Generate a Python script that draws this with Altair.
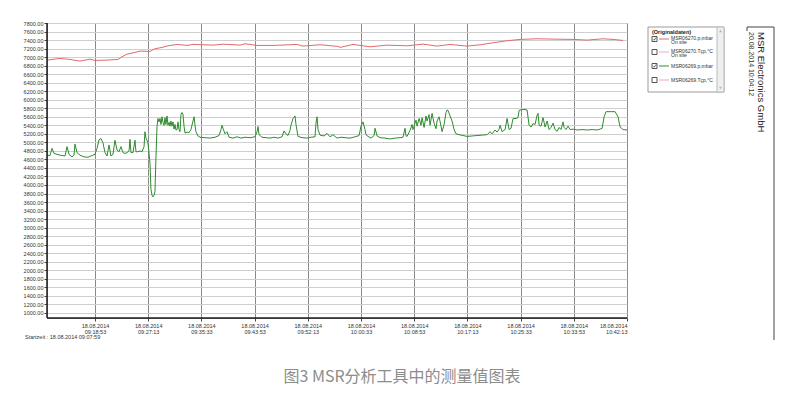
import altair as alt
import pandas as pd

# ---- data (seconds after 09:00:00 on 18.08.2014, values in mbar) ----
red_sec = [682, 804, 898, 992, 1086, 1133, 1246, 1349, 1387, 1434, 1509, 1556, 1650, 1697,
           1763, 1819, 1904, 1998, 2054, 2242, 2336, 2496, 2543, 2656, 2806, 3031, 3088,
           3248, 3417, 3436, 3558, 3718, 3878, 4066, 4216, 4348, 4470, 4630, 4752, 4874,
           5006, 5128, 5288, 5438, 5626, 5758, 5908, 6002, 6096]
red_val = [6930, 6969, 6945, 6906, 6953, 6922, 6930, 6945, 7008, 7070, 7110, 7141, 7133, 7196,
           7227, 7265, 7297, 7274, 7297, 7281, 7304, 7281, 7312, 7274, 7274, 7297, 7258,
           7290, 7250, 7227, 7297, 7242, 7281, 7265, 7305, 7258, 7297, 7258, 7289, 7336,
           7383, 7415, 7430, 7422, 7415, 7399, 7430, 7415, 7391]

green_sec = [682, 710, 729, 748, 776, 804, 832, 851, 870, 889, 917, 936, 945, 964, 992, 1030,
             1067, 1095, 1114, 1133, 1152, 1171, 1189, 1208, 1227, 1246, 1265, 1283, 1302,
             1321, 1340, 1359, 1377, 1396, 1415, 1434, 1453, 1462, 1471, 1490, 1509, 1518,
             1537, 1556, 1575, 1594, 1603, 1612, 1622, 1631, 1641, 1650, 1659, 1669, 1678,
             1688, 1697, 1706, 1716, 1725, 1735, 1744, 1753, 1763, 1772, 1782, 1791, 1800,
             1810, 1819, 1829, 1838, 1847, 1857, 1866, 1876, 1885, 1894, 1904, 1913, 1923,
             1932, 1941, 1951, 1960, 1970, 1979, 1998, 2017, 2035, 2054, 2064, 2073, 2082,
             2101, 2120, 2167, 2214, 2261, 2299, 2317, 2327, 2336, 2355, 2374, 2393, 2430,
             2468, 2505, 2543, 2590, 2637, 2656, 2665, 2675, 2703, 2740, 2778, 2816, 2853,
             2891, 2910, 2928, 2947, 2966, 2975, 2994, 3013, 3022, 3041, 3079, 3126, 3163,
             3201, 3210, 3220, 3229, 3248, 3286, 3314, 3342, 3370, 3408, 3445, 3483, 3530,
             3577, 3615, 3633, 3652, 3671, 3680, 3699, 3727, 3756, 3765, 3784, 3812, 3859,
             3906, 3953, 4000, 4028, 4047, 4056, 4066, 4094, 4113, 4122, 4141, 4150, 4160,
             4179, 4197, 4207, 4226, 4244, 4254, 4273, 4282, 4301, 4320, 4338, 4348, 4367,
             4385, 4395, 4414, 4432, 4442, 4451, 4470, 4489, 4508, 4526, 4555, 4592, 4630,
             4677, 4724, 4771, 4818, 4846, 4865, 4893, 4912, 4931, 4940, 4959, 4987, 5006,
             5025, 5043, 5062, 5090, 5109, 5119, 5147, 5175, 5194, 5213, 5231, 5250, 5269,
             5288, 5297, 5307, 5325, 5344, 5363, 5382, 5401, 5419, 5438, 5457, 5476, 5495,
             5513, 5532, 5542, 5560, 5579, 5598, 5626, 5664, 5711, 5758, 5805, 5852, 5880,
             5899, 5918, 5936, 5974, 6021, 6049, 6068, 6096, 6133]
green_val = [4700, 4690, 4860, 4740, 4720, 4700, 4690, 4680, 4900, 4720, 4660, 4700, 4960, 4760,
             4700, 4660, 4650, 4680, 4700, 4720, 4860, 5060, 5090, 4990, 4760, 4680, 4940,
             4680, 4720, 5050, 4820, 4780, 4900, 4760, 4740, 4760, 4800, 5070, 4760, 4760,
             5050, 4780, 4780, 4800, 4780, 4900, 5250, 5100, 5050, 4980, 4750, 4500, 3900,
             3760, 3720, 3760, 3850, 4660, 5370, 5560, 5480, 5560, 5420, 5600, 5470, 5400,
             5580, 5420, 5620, 5400, 5470, 5380, 5500, 5380, 5480, 5310, 5420, 5290, 5300,
             5480, 5300, 5250, 5650, 5700, 5660, 5380, 5220, 5240, 5230, 5300, 5500, 5600,
             5400, 5250, 5150, 5120, 5110, 5100, 5120, 5160, 5300, 5400, 5330, 5200, 5250,
             5120, 5100, 5130, 5100, 5120, 5110, 5130, 5250, 5370, 5180, 5120, 5110, 5100,
             5120, 5100, 5130, 5270, 5200, 5160, 5280, 5400, 5560, 5620, 5420, 5140, 5110,
             5100, 5120, 5130, 5450, 5600, 5300, 5170, 5150, 5210, 5130, 5180, 5100, 5120,
             5110, 5100, 5130, 5160, 5380, 5480, 5300, 5180, 5140, 5100, 5160, 5330, 5150,
             5110, 5100, 5080, 5100, 5110, 5120, 5330, 5150, 5140, 5280, 5420, 5300, 5450,
             5520, 5380, 5560, 5400, 5580, 5350, 5620, 5500, 5650, 5400, 5680, 5450, 5320,
             5500, 5600, 5380, 5250, 5420, 5700, 5760, 5750, 5620, 5500, 5300, 5200, 5180,
             5160, 5140, 5150, 5160, 5170, 5180, 5250, 5200, 5290, 5240, 5310, 5400, 5250,
             5300, 5560, 5300, 5330, 5560, 5560, 5580, 5750, 5770, 5770, 5760, 5400, 5360,
             5440, 5420, 5640, 5680, 5400, 5380, 5580, 5360, 5500, 5300, 5350, 5450, 5300,
             5260, 5350, 5300, 5480, 5350, 5300, 5380, 5300, 5310, 5290, 5300, 5290, 5300,
             5290, 5310, 5330, 5600, 5720, 5720, 5720, 5600, 5360, 5300, 5290]

series_names = ["MSR06270.p,mbar", "MSR06270.Tçp,°C", "MSR06269.p,mbar", "MSR06269.Tçp,°C"]
series_colors = ["#e06a6a", "#f2a8dc", "#2e8b2e", "#f2a0d4"]
x_ticks = [1133, 1633, 2133, 2633, 3133, 3633, 4133, 4633, 5133, 5633, 6133]
y_ticks = list(range(1000, 7801, 200))
date_label = "18.08.2014"
start_text = "Startzeit : 18.08.2014 09:07:59"
company = "MSR Electronics GmbH"
print_stamp = "20.08.2014 10:04:12"
legend_title = "(Originaldaten)"
caption = "图3 MSR分析工具中的测量值图表"

df = pd.concat([
    pd.DataFrame({"sec": red_sec, "val": red_val, "series": series_names[0]}),
    pd.DataFrame({"sec": green_sec, "val": green_val, "series": series_names[2]}),
])

W, H = 580, 295
X0, Y0 = 47, 23  # plot origin on page

xs = alt.X("sec:Q", scale=alt.Scale(domain=[682, 6133], nice=False, zero=False),
           axis=alt.Axis(values=x_ticks, title=None, grid=True, gridColor="#8a8a8a",
                         gridWidth=1, tickSize=3, tickColor="#444", domain=False,
                         labelFontSize=5.5, labelColor="#333", labelFont="Liberation Sans",
                         labelPadding=2, labelLineHeight=6.5,
                         labelExpr="['" + date_label + "', timeFormat(datetime(2014, 7, 18, 9, 0, datum.value), '%H:%M:%S')]"))
ys = alt.Y("val:Q", scale=alt.Scale(domain=[880, 7800], nice=False, zero=False),
           axis=alt.Axis(values=y_ticks, format=".2f", title=None, grid=True,
                         gridColor="#cfcfcf", gridWidth=1, tickSize=3, tickColor="#444",
                         domain=False, labelFontSize=5.5, labelColor="#333",
                         labelFont="Liberation Sans", labelPadding=1))

lines = alt.Chart(df).mark_line(strokeWidth=1, interpolate="linear").encode(
    x=xs, y=ys,
    color=alt.Color("series:N", scale=alt.Scale(domain=series_names, range=series_colors),
                    legend=None),
    detail="series:N",
)

# thicker left & bottom frame
frame_l = alt.Chart().mark_rule(color="#222", strokeWidth=1.5).encode(
    x=alt.value(0), y=alt.value(0), y2=alt.value(H))
frame_b = alt.Chart().mark_rule(color="#222", strokeWidth=1.5).encode(
    x=alt.value(0), x2=alt.value(W), y=alt.value(H))


def txt(text, px, py, size=5.5, color="#333", align="left", angle=0, weight="normal",
        font="Liberation Sans", baseline="middle"):
    kw = dict(align=align, baseline=baseline, fontSize=size, color=color, font=font,
              fontWeight=weight)
    if angle:
        kw["angle"] = angle
    return alt.Chart(pd.DataFrame({"t": [text]})).mark_text(**kw).encode(
        text="t:N", x=alt.value(px - X0), y=alt.value(py - Y0))


def rule(px1, py1, px2, py2, color="#666", width=1):
    return alt.Chart().mark_rule(color=color, strokeWidth=width).encode(
        x=alt.value(px1 - X0), x2=alt.value(px2 - X0),
        y=alt.value(py1 - Y0), y2=alt.value(py2 - Y0))


def box(px1, py1, px2, py2, fill="white", stroke="#999", width=1):
    return alt.Chart().mark_rect(fill=fill, stroke=stroke, strokeWidth=width).encode(
        x=alt.value(px1 - X0), x2=alt.value(px2 - X0),
        y=alt.value(py1 - Y0), y2=alt.value(py2 - Y0))


layers = [lines, frame_l, frame_b]

# start time under the axis
layers.append(txt(start_text, 25, 337, size=5.5))

# legend box
layers.append(box(648, 27, 724, 92, stroke="#9a9a9a"))
layers.append(box(717, 27, 724, 92, fill="#efefef", stroke="#bbbbbb"))
layers.append(alt.Chart().mark_point(shape="triangle-up", filled=True, size=8, color="#999").encode(
    x=alt.value(720.5 - X0), y=alt.value(31 - Y0)))
layers.append(alt.Chart().mark_point(shape="triangle-down", filled=True, size=8, color="#999").encode(
    x=alt.value(720.5 - X0), y=alt.value(88 - Y0)))
layers.append(txt(legend_title, 652, 32, size=5.5, weight="bold", color="#222"))

entry_y = [39, 52, 66, 80]
checked = [True, False, True, False]
second_line = ["On site", "On site", None, None]
for i, name in enumerate(series_names):
    yy = entry_y[i]
    layers.append(box(652, yy - 2.5, 657, yy + 2.5, fill="white", stroke="#555"))
    if checked[i]:
        layers.append(txt("✓", 652.5, yy, size=6, color="#222", font="DejaVu Sans"))
    layers.append(rule(659, yy, 669, yy, color=series_colors[i], width=1))
    if second_line[i]:
        layers.append(txt(name, 671, yy - 1.5, size=5))
        layers.append(txt(second_line[i], 671, yy + 3, size=5))
    else:
        layers.append(txt(name, 671, yy, size=5))

# right side stamp panel
layers.append(rule(747, 27, 774, 27, color="#444"))
layers.append(rule(774, 27, 774, 340, color="#444"))
layers.append(rule(747, 27, 747, 31, color="#444"))
layers.append(txt(company, 761, 32, size=9.5, angle=90, color="#222", font="Liberation Sans"))
layers.append(txt(print_stamp, 750.5, 32, size=7, angle=90, color="#333"))

# caption
layers.append(txt(caption, 402, 377, size=16, color="#8c8c8c", align="center",
                  font="Noto Sans CJK SC"))

chart = alt.layer(*layers).properties(
    width=W, height=H,
    autosize=alt.AutoSizeParams(type="none"),
    padding={"left": X0 - 8, "top": Y0 - 8, "right": 773 - (X0 - 8) - W,
             "bottom": 384 - (Y0 - 8) - H},
).configure_view(stroke="#777", strokeWidth=1)

chart.save("out.html", embed_options={"renderer": "svg", "actions": False})
